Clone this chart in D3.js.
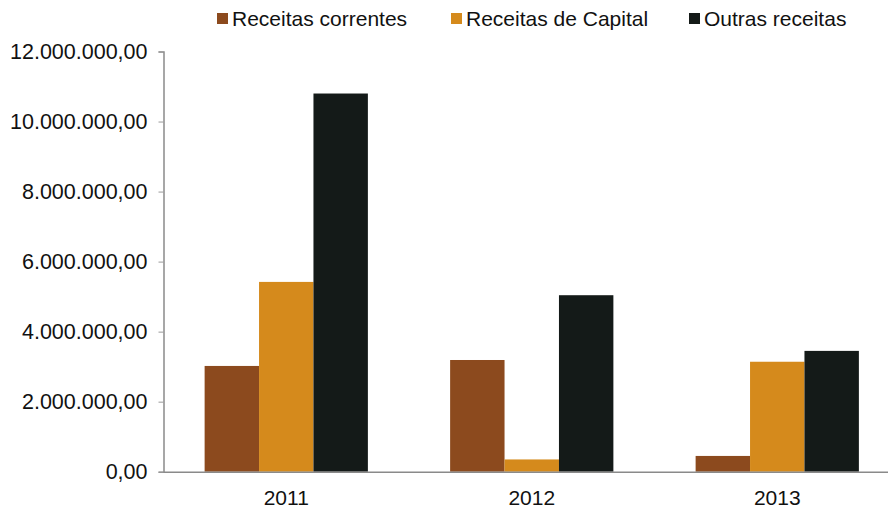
<!DOCTYPE html>
<html>
<head>
<meta charset="utf-8">
<script src="https://cdn.jsdelivr.net/npm/d3@7/dist/d3.min.js"></script>
<style>
  html, body { margin: 0; padding: 0; background: #fff; }
  svg { display: block; }
  text { font-family: "Liberation Sans", Arial, sans-serif; fill: #111; }
</style>
</head>
<body>
<svg id="chart" width="888" height="508"></svg>
<script>
// Receitas por ano (euros)
const years = ["2011", "2012", "2013"];
const seriesNames = ["Receitas correntes", "Receitas de Capital", "Outras receitas"];
const receitasCorrentes = [3020000, 3190000, 450000];
const receitasCapital = [5420000, 350000, 3140000];
const outrasReceitas = [10800000, 5040000, 3450000];
const yTicks = [0, 2000000, 4000000, 6000000, 8000000, 10000000, 12000000];
const colors = ["#8c4a1e", "#d58a1c", "#141a18"];

const seriesValues = [receitasCorrentes, receitasCapital, outrasReceitas];

const svg = d3.select("#chart");
const margin = { left: 163.5, top: 51.5, bottom: 471.7 };
const plotRight = 900;

const y = d3.scaleLinear().domain([0, 12000000]).range([margin.bottom, margin.top]);
const x0 = d3.scaleBand().domain(years).range([margin.left, plotRight]).paddingInner(0.335).paddingOuter(0.1675);
const x1 = d3.scaleBand().domain(seriesNames).range([0, x0.bandwidth()]).padding(0);

// pt-PT number format: "." thousands, "," decimals
const fmt = d3.formatLocale({ decimal: ",", thousands: ".", grouping: [3], currency: ["", " €"] }).format(",.2f");

// bars
const groups = svg.append("g").selectAll("g")
  .data(years)
  .join("g")
  .attr("transform", d => `translate(${x0(d)},0)`);

groups.selectAll("rect")
  .data((d, i) => seriesNames.map((s, j) => ({ series: s, value: seriesValues[j][i], color: colors[j] })))
  .join("rect")
  .attr("x", d => x1(d.series))
  .attr("width", x1.bandwidth())
  .attr("y", d => y(d.value))
  .attr("height", d => y(0) - y(d.value))
  .attr("fill", d => d.color);

// y axis
const yAxis = svg.append("g")
  .attr("transform", `translate(${margin.left},0)`)
  .call(d3.axisLeft(y).tickValues(yTicks).tickFormat(fmt).tickSize(5).tickPadding(11));
yAxis.select(".domain").attr("stroke", "#8a8a8a").attr("stroke-width", 1.5);
yAxis.selectAll(".tick line").attr("stroke", "#9a9a9a");
yAxis.selectAll(".tick text").attr("font-size", 21.5).attr("fill", "#111")
  .style("font-family", '"Liberation Sans", Arial, sans-serif');

// x axis baseline and category labels
const xAxis = svg.append("g")
  .attr("transform", `translate(0,${y(0)})`)
  .call(d3.axisBottom(x0).tickSize(0).tickPadding(18));
xAxis.select(".domain").attr("stroke", "#8a8a8a").attr("stroke-width", 1.5);
xAxis.selectAll(".tick text").attr("font-size", 21).attr("fill", "#111")
  .style("font-family", '"Liberation Sans", Arial, sans-serif');

// legend
const legendX = [217, 451, 689];
const legend = svg.append("g").selectAll("g")
  .data(seriesNames)
  .join("g")
  .attr("transform", (d, i) => `translate(${legendX[i]},0)`);
legend.append("rect")
  .attr("x", 0).attr("y", 13).attr("width", 11).attr("height", 11)
  .attr("fill", (d, i) => colors[i]);
legend.append("text")
  .attr("x", 15).attr("y", 26)
  .attr("font-size", 21)
  .text(d => d);
</script>
</body>
</html>
